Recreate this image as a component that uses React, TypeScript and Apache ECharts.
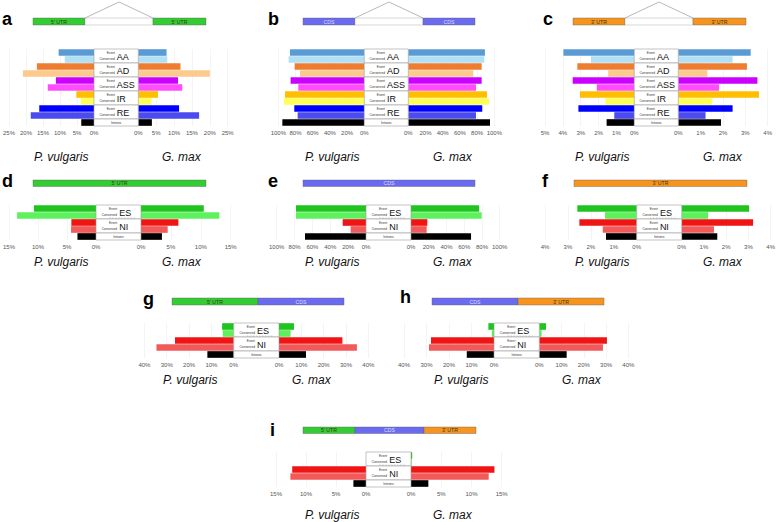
import React, { useEffect, useRef } from 'react';
import * as echarts from 'echarts';

// ---------- categories ----------
const eventTypes = ['AA', 'AD', 'ASS', 'IR', 'RE'];
const esniTypes = ['ES', 'NI'];
const eventRows = ['AA Event', 'AA Conserved', 'AD Event', 'AD Conserved', 'ASS Event', 'ASS Conserved', 'IR Event', 'IR Conserved', 'RE Event', 'RE Conserved', 'Introns'];
const esniRows = ['ES Event', 'ES Conserved', 'NI Event', 'NI Conserved', 'Introns'];
const species = ['P. vulgaris', 'G. max'];

// ---------- values (percent) : P. vulgaris (left) / G. max (right) ----------
const aPv = [10.4, 8.6, 16.8, 20.9, 11.2, 13.6, 5.2, 3.9, 16.1, 18.6, 3.75];
const aGm = [7.9, 8.1, 11.8, 20.0, 11.1, 12.3, 5.5, 3.7, 11.4, 17.0, 3.8];
const bPv = [86.4, 88.0, 81.0, 74.8, 85.7, 76.7, 92.2, 93.4, 81.4, 77.5, 95.3];
const bGm = [89.1, 88.4, 85.3, 75.6, 85.3, 78.7, 91.5, 93.8, 86.0, 78.7, 95.0];
const cPv = [3.97, 2.43, 3.19, 1.46, 3.45, 2.1, 3.04, 1.62, 3.13, 1.12, 1.55];
const cGm = [3.24, 2.43, 3.07, 1.3, 3.54, 1.82, 3.61, 1.52, 2.43, 1.22, 1.91];
const dPv = [10.7, 13.6, 4.25, 4.3, 3.2];
const dGm = [10.5, 13.1, 6.25, 4.46, 3.5];
const ePv = [78.4, 78.4, 26.1, 17.2, 68.3];
const eGm = [76.7, 79.7, 18.4, 17.7, 67.7];
const fPv = [2.59, 1.38, 2.5, 1.48, 1.34];
const fGm = [3.03, 1.19, 3.21, 1.45, 1.6];
const gPv = [5.2, 4.9, 26.3, 34.6, 11.8];
const gGm = [6.7, 5.2, 28.4, 34.9, 12.1];
const hPv = [2.5, 1.0, 28.0, 28.9, 12.1];
const hGm = [3.0, 1.05, 30.4, 28.6, 12.3];
const iPv = [0, 0, 12.3, 12.6, 2.1];
const iGm = [0.2, 0.1, 13.8, 12.85, 2.87];

// ---------- axis ranges ----------
const aAxis = { lMax: 25, lInt: 5, rMax: 25, rInt: 5 };
const bAxis = { lMax: 100, lInt: 20, rMax: 100, rInt: 20 };
const cAxis = { lMax: 5, lInt: 1, rMax: 4, rInt: 1 };
const dAxis = { lMax: 15, lInt: 5, rMax: 15, rInt: 5 };
const eAxis = { lMax: 100, lInt: 20, rMax: 100, rInt: 20 };
const fAxis = { lMax: 4, lInt: 1, rMax: 4, rInt: 1 };
const gAxis = { lMax: 40, lInt: 10, rMax: 40, rInt: 10 };
const hAxis = { lMax: 40, lInt: 10, rMax: 40, rInt: 10 };
const iAxis = { lMax: 15, lInt: 5, rMax: 15, rInt: 5 };

// ---------- colours ----------
const eventColors = ['#5b9bd5', '#b0e0f6', '#ee7d31', '#fbca8c', '#cc00ff', '#ff4cff', '#ffbf00', '#ffff55', '#0000ff', '#4b4bef', '#000000'];
const esniColors = ['#1fc41f', '#5df25d', '#f01515', '#f25a5a', '#000000'];
const UTR5 = '#33cc33';
const CDS = '#6b6bf2';
const UTR3 = '#f7941d';

const FONT = '"Liberation Sans", Arial, sans-serif';
const ROW = 7;

type Panel = {
  id: string; rows: string[]; types: string[]; colors: string[]; pv: number[]; gm: number[];
  ax: { lMax: number; lInt: number; rMax: number; rInt: number };
  lEnd: number; lZero: number; rZero: number; rEnd: number; top: number;
  letter: [number, number];
  gene: { y: number; h: number; segs: [number, number, string, string][]; intron?: [number, number, number] };
  spY: number; spX: [number, number];
};

const panels: Panel[] = [
  { id: 'a', rows: eventRows, types: eventTypes, colors: eventColors, pv: aPv, gm: aGm, ax: aAxis,
    lEnd: 7.3, lZero: 94, rZero: 138.3, rEnd: 227.7, top: 49, letter: [2, 19],
    gene: { y: 18, h: 7, segs: [[33, 85, UTR5, "5' UTR"], [85, 153, '#ffffff', ''], [153, 206, UTR5, "5' UTR"]], intron: [85, 153, 2] },
    spY: 157, spX: [34, 162] },
  { id: 'b', rows: eventRows, types: eventTypes, colors: eventColors, pv: bPv, gm: bGm, ax: bAxis,
    lEnd: 278.3, lZero: 364.3, rZero: 408.3, rEnd: 494.3, top: 49, letter: [268, 19],
    gene: { y: 18, h: 7, segs: [[303, 355, CDS, 'CDS'], [355, 423, '#ffffff', ''], [423, 475, CDS, 'CDS']], intron: [355, 423, 2] },
    spY: 157, spX: [305, 433] },
  { id: 'c', rows: eventRows, types: eventTypes, colors: eventColors, pv: cPv, gm: cGm, ax: cAxis,
    lEnd: 545, lZero: 634.3, rZero: 678.3, rEnd: 767.7, top: 49, letter: [543, 19],
    gene: { y: 18, h: 7, segs: [[573, 625, UTR3, "3' UTR"], [625, 693, '#ffffff', ''], [693, 746, UTR3, "3' UTR"]], intron: [625, 693, 2] },
    spY: 157, spX: [575, 703] },
  { id: 'd', rows: esniRows, types: esniTypes, colors: esniColors, pv: dPv, gm: dGm, ax: dAxis,
    lEnd: 6.7, lZero: 96, rZero: 141, rEnd: 230.7, top: 205, letter: [2, 180.5],
    gene: { y: 180, h: 6.5, segs: [[33, 206, UTR5, "5' UTR"]] },
    spY: 262, spX: [34, 162] },
  { id: 'e', rows: esniRows, types: esniTypes, colors: esniColors, pv: ePv, gm: eGm, ax: eAxis,
    lEnd: 276.7, lZero: 366, rZero: 411, rEnd: 499.7, top: 205, letter: [268, 180.5],
    gene: { y: 180, h: 6.5, segs: [[303, 475, CDS, 'CDS']] },
    spY: 262, spX: [305, 433] },
  { id: 'f', rows: esniRows, types: esniTypes, colors: esniColors, pv: fPv, gm: fGm, ax: fAxis,
    lEnd: 545, lZero: 636.7, rZero: 681.7, rEnd: 773.3, top: 205, letter: [542, 180.5],
    gene: { y: 180, h: 6.5, segs: [[574, 747, UTR3, "3' UTR"]] },
    spY: 262, spX: [575, 703] },
  { id: 'g', rows: esniRows, types: esniTypes, colors: esniColors, pv: gPv, gm: gGm, ax: gAxis,
    lEnd: 144.4, lZero: 233.7, rZero: 279, rEnd: 368.3, top: 323, letter: [143, 298.5],
    gene: { y: 298, h: 7, segs: [[172, 258, UTR5, "5' UTR"], [258, 344, CDS, 'CDS']] },
    spY: 380, spX: [163, 292] },
  { id: 'h', rows: esniRows, types: esniTypes, colors: esniColors, pv: hPv, gm: hGm, ax: hAxis,
    lEnd: 404, lZero: 494, rZero: 539.3, rEnd: 628.3, top: 323, letter: [400, 296.5],
    gene: { y: 298, h: 7, segs: [[432, 518, CDS, 'CDS'], [518, 604, UTR3, "3' UTR"]] },
    spY: 380, spX: [434, 562] },
  { id: 'i', rows: esniRows, types: esniTypes, colors: esniColors, pv: iPv, gm: iGm, ax: iAxis,
    lEnd: 276, lZero: 366, rZero: 411, rEnd: 501.7, top: 452, letter: [270, 429.5],
    gene: { y: 427, h: 6.5, segs: [[303, 355, UTR5, "5' UTR"], [355, 424, CDS, 'CDS'], [424, 476, UTR3, "3' UTR"]] },
    spY: 515, spX: [305, 433] },
];

function txt(x: number, y: number, text: string, size: number, opts: any = {}) {
  const align = opts.align || 'left';
  const va = opts.va || 'middle';
  return {
    type: 'text', z: 100, silent: true,
    style: {
      x, y, text, fontSize: size, fontFamily: FONT,
      fontWeight: opts.weight || 'normal', fontStyle: opts.style || 'normal',
      fill: opts.fill || '#222',
      align, textAlign: align, verticalAlign: va, textVerticalAlign: va,
    },
  };
}

function buildOption() {
  const grid: any[] = [];
  const xAxis: any[] = [];
  const yAxis: any[] = [];
  const series: any[] = [];
  const graphic: any[] = [];

  const axisCommon = (gi: number, max: number, interval: number, inverse: boolean) => ({
    gridIndex: gi, type: 'value', min: 0, max, interval, inverse,
    axisLine: { show: false }, axisTick: { show: false },
    splitLine: { show: true, lineStyle: { color: '#ececec', width: 0.6 } },
    axisLabel: {
      show: true, fontSize: 6, color: '#555', margin: 3.5, fontFamily: FONT,
      showMinLabel: true, showMaxLabel: true, hideOverlap: false,
      formatter: (v: number) => `${v}%`,
    },
  });

  panels.forEach((p, idx) => {
    const h = p.rows.length * ROW;
    const gl = idx * 2;
    const gr = idx * 2 + 1;
    grid.push({ left: p.lEnd, top: p.top, width: p.lZero - p.lEnd, height: h });
    grid.push({ left: p.rZero, top: p.top, width: p.rEnd - p.rZero, height: h });
    xAxis.push(axisCommon(gl, p.ax.lMax, p.ax.lInt, true));
    xAxis.push(axisCommon(gr, p.ax.rMax, p.ax.rInt, false));
    yAxis.push({ gridIndex: gl, type: 'category', data: p.rows, inverse: true, show: false });
    yAxis.push({ gridIndex: gr, type: 'category', data: p.rows, inverse: true, show: false });
    const mk = (vals: number[]) => vals.map((v, k) => ({ value: v, itemStyle: { color: p.colors[k] } }));
    series.push({ type: 'bar', name: `${p.id} ${species[0]}`, xAxisIndex: gl, yAxisIndex: gl, data: mk(p.pv), barCategoryGap: '5%', silent: true });
    series.push({ type: 'bar', name: `${p.id} ${species[1]}`, xAxisIndex: gr, yAxisIndex: gr, data: mk(p.gm), barCategoryGap: '5%', silent: true });

    // centre label boxes
    const bx = p.lZero;
    const bw = p.rZero - p.lZero;
    p.types.forEach((t, k) => {
      const y0 = p.top + k * 2 * ROW;
      graphic.push({ type: 'rect', z: 90, silent: true, shape: { x: bx, y: y0, width: bw, height: 2 * ROW }, style: { fill: '#ffffff', stroke: '#9a9a9a', lineWidth: 0.6 } });
      graphic.push(txt(bx + bw * 0.47, y0 + 4, 'Event', 3.2, { align: 'right', fill: '#333' }));
      graphic.push(txt(bx + bw * 0.47, y0 + 9.6, 'Conserved', 3.2, { align: 'right', fill: '#333' }));
      graphic.push(txt(bx + bw * 0.515, y0 + 7.6, t, 9, { fill: '#111' }));
      if (p.types === esniTypes && t === 'ES') {
        graphic.push({ type: 'line', z: 95, silent: true, shape: { x1: bx + bw * 0.3, y1: y0 + 13, x2: bx + bw * 0.9, y2: y0 + 13 }, style: { stroke: '#888', lineWidth: 0.6, lineDash: [1, 2] } });
      }
    });
    const yi = p.top + p.types.length * 2 * ROW;
    graphic.push({ type: 'rect', z: 90, silent: true, shape: { x: bx, y: yi, width: bw, height: ROW }, style: { fill: '#ffffff', stroke: '#9a9a9a', lineWidth: 0.6 } });
    graphic.push(txt(bx + bw / 2, yi + ROW / 2, 'Introns', 3.4, { align: 'center', fill: '#333' }));

    // gene structure
    p.gene.segs.forEach(([x1, x2, col, label]) => {
      graphic.push({ type: 'rect', z: 90, silent: true, shape: { x: x1, y: p.gene.y, width: x2 - x1, height: p.gene.h }, style: { fill: col, stroke: col === '#ffffff' ? '#9a9a9a' : '#5a5a5a', lineWidth: 0.4 } });
      if (label) {
        graphic.push(txt((x1 + x2) / 2, p.gene.y + p.gene.h / 2, label, 5.2, { align: 'center', fill: col === CDS ? '#dcdcff' : '#3a3a10' }));
      }
    });
    if (p.gene.intron) {
      const [ix1, ix2, apex] = p.gene.intron;
      graphic.push({ type: 'polyline', z: 90, silent: true, shape: { points: [[ix1, p.gene.y], [(ix1 + ix2) / 2, apex], [ix2, p.gene.y]] }, style: { stroke: '#9a9a9a', fill: 'none', lineWidth: 0.7 } });
    }

    // panel letter
    graphic.push(txt(p.letter[0], p.letter[1], p.id, 18, { weight: 'bold', fill: '#000' }));
    // species labels
    graphic.push(txt(p.spX[0], p.spY, species[0], 12, { style: 'italic', fill: '#111' }));
    graphic.push(txt(p.spX[1], p.spY, species[1], 12, { style: 'italic', fill: '#111' }));
  });

  return { animation: false, backgroundColor: '#ffffff', grid, xAxis, yAxis, series, graphic };
}

export default function App() {
  const ref = useRef<HTMLDivElement>(null);
  useEffect(() => {
    if (!ref.current) return;
    const chart = echarts.init(ref.current, undefined, { renderer: 'svg' });
    chart.setOption(buildOption() as any);
    return () => chart.dispose();
  }, []);
  return <div ref={ref} style={{ position: 'fixed', left: 0, top: 0, width: 778, height: 522, background: '#fff' }} />;
}
